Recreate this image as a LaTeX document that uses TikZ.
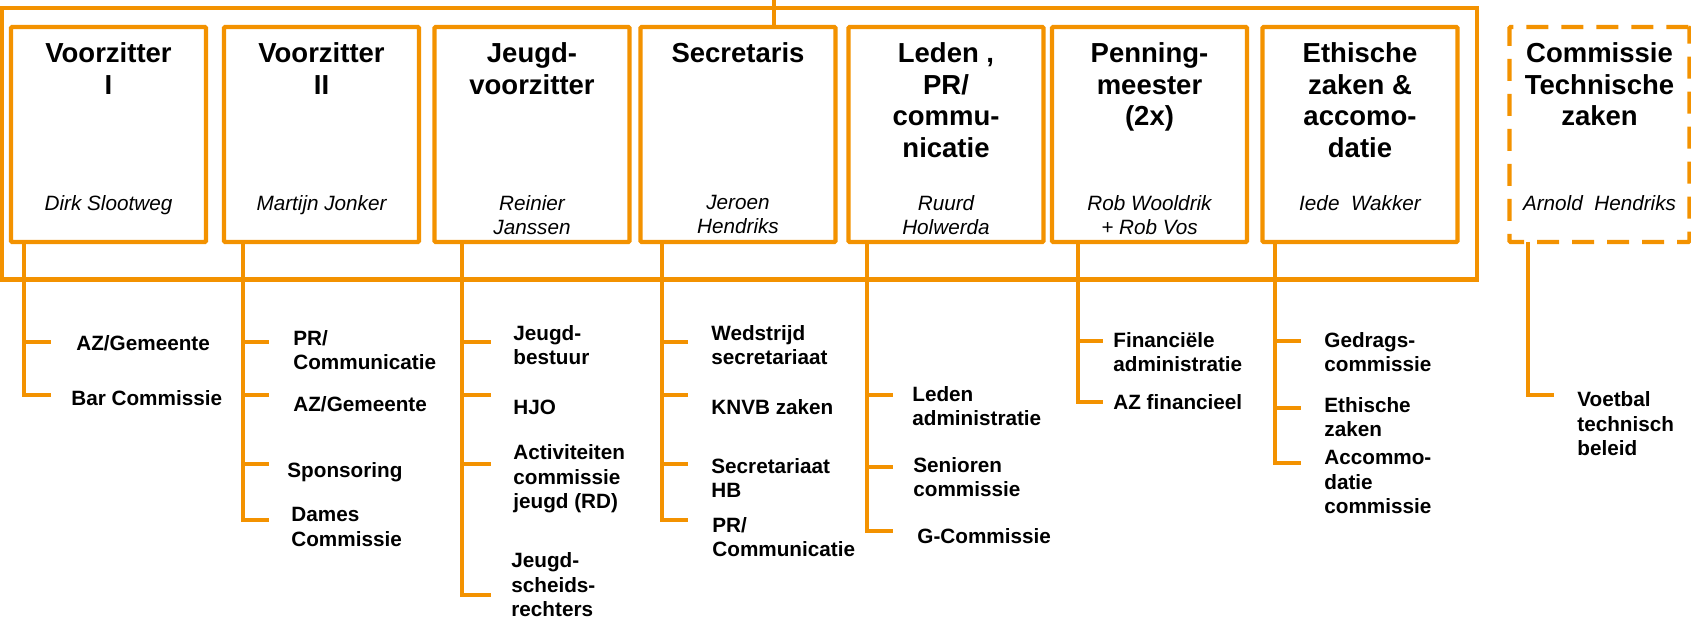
\documentclass[tikz,border=0pt]{standalone}
\usepackage{fontspec}
\setmainfont{Liberation Sans}
\definecolor{clubOrange}{RGB}{243,146,0}

\begin{document}
\begin{tikzpicture}[x=0.5pt,y=-0.5pt]

          \tikzstyle{frameNode} = [draw=clubOrange, line width=2pt, minimum width=737.5pt, minimum height=135.75pt, inner sep=0pt];
          \tikzstyle{functieNode} = [draw=clubOrange, line width=2.2pt, rounded corners=0.6pt, minimum width=97.5pt, minimum height=107.5pt, inner sep=0pt];
          \tikzstyle{commissieNode} = [functieNode, dash pattern=on 11pt off 6.5pt, minimum width=90pt];
          \tikzstyle{titleNode} = [anchor=north, align=center, inner sep=0pt, font=\fontsize{13.75}{15.85}\selectfont\bfseries];
          \tikzstyle{nameNode} = [anchor=north, align=center, inner sep=0pt, font=\fontsize{10.35}{12}\selectfont\itshape];
          \tikzstyle{taskNode} = [anchor=west, align=left, inner sep=0pt, font=\fontsize{10.35}{12.25}\selectfont\bfseries];
          \tikzstyle{orangeEdge} = [draw=clubOrange, line width=2.2pt];

          \useasboundingbox (0,0) rectangle (1691,620);

          % bestuur
          \node[frameNode] (bestuur) at (739.5,143.75) {};
          \node[functieNode] (vz1) at (108.5,134.5) {};
          \node[functieNode] (vz2) at (321.5,134.5) {};
          \node[functieNode] (jvz) at (532,134.5) {};
          \node[functieNode] (sec) at (738,134.5) {};
          \node[functieNode] (led) at (946,134.5) {};
          \node[functieNode] (pen) at (1149.5,134.5) {};
          \node[functieNode] (eth) at (1360,134.5) {};
          \node[commissieNode] (ctz) at (1599.5,134.5) {};

          \node[titleNode] (vz1t) at (108.5,42) {Voorzitter\\I};
          \node[titleNode] (vz2t) at (321.5,42) {Voorzitter\\II};
          \node[titleNode] (jvzt) at (532,42) {Jeugd-\\voorzitter};
          \node[titleNode] (sect) at (738,42) {Secretaris};
          \node[titleNode] (ledt) at (946,42) {Leden ,\\PR/\\commu-\\nicatie};
          \node[titleNode] (pent) at (1149.5,42) {Penning-\\meester\\(2x)};
          \node[titleNode] (etht) at (1360,42) {Ethische\\zaken \&\\accomo-\\datie};
          \node[titleNode] (ctzt) at (1599.5,42) {Commissie\\Technische\\zaken};

          \node[nameNode] (vz1n) at (108.5,195) {Dirk Slootweg};
          \node[nameNode] (vz2n) at (321.5,195) {Martijn Jonker};
          \node[nameNode] (jvzn) at (532,195) {Reinier\\Janssen};
          \node[nameNode] (secn) at (738,195) {Jeroen\\Hendriks};
          \node[nameNode] (ledn) at (946,195) {Ruurd\\Holwerda};
          \node[nameNode] (penn) at (1149.5,195) {Rob Wooldrik\\+ Rob Vos};
          \node[nameNode] (ethn) at (1360,195) {Iede\ \ Wakker};
          \node[nameNode] (ctzn) at (1599.5,195) {Arnold\ \ Hendriks};

          \coordinate (top) at (774,0);
          \draw[orangeEdge] (top) -- (sec.north -| top);

          % taken
          \node[taskNode] (az1) at (76,343) {AZ/Gemeente};
          \node[taskNode] (bar1) at (71,398) {Bar Commissie};

          \node[taskNode] (pr2) at (293,350) {PR/\\Communicatie};
          \node[taskNode] (az2) at (293,404) {AZ/Gemeente};
          \node[taskNode] (spo2) at (287,472) {Sponsoring};
          \node[taskNode] (dam2) at (291,527) {Dames\\Commissie};

          \node[taskNode] (jbe3) at (513,345) {Jeugd-\\bestuur};
          \node[taskNode] (hjo3) at (513,407) {HJO};
          \node[taskNode] (act3) at (513,479) {Activiteiten\\commissie\\jeugd (RD)};
          \node[taskNode] (jsr3) at (511,585) {Jeugd-\\scheids-\\rechters};

          \node[taskNode] (wed4) at (711,345) {Wedstrijd\\secretariaat};
          \node[taskNode] (knvb4) at (711,407) {KNVB zaken};
          \node[taskNode] (shb4) at (711,478) {Secretariaat\\HB};
          \node[taskNode] (pr4) at (712,537) {PR/\\Communicatie};

          \node[taskNode] (lad5) at (912,406) {Leden\\administratie};
          \node[taskNode] (sen5) at (913,477) {Senioren\\commissie};
          \node[taskNode] (gco5) at (917,536) {G-Commissie};

          \node[taskNode] (fin6) at (1113,352) {Financiële\\administratie};
          \node[taskNode] (azf6) at (1113,402) {AZ financieel};

          \node[taskNode] (ged7) at (1324,352) {Gedrags-\\commissie};
          \node[taskNode] (etz7) at (1324,417) {Ethische\\zaken};
          \node[taskNode] (acc7) at (1324,482) {Accommo-\\datie\\commissie};

          \node[taskNode] (vtb8) at (1577,424) {Voetbal\\technisch\\beleid};

          \coordinate (s1) at (24,242);
          \coordinate (s2) at (243,242);
          \coordinate (s3) at (462,242);
          \coordinate (s4) at (662,242);
          \coordinate (s5) at (867,242);
          \coordinate (s6) at (1078,242);
          \coordinate (s7) at (1275,242);
          \coordinate (s8) at (1528,242);

          \coordinate (b1a) at (51,342);
          \coordinate (b1b) at (51,395);
          \coordinate (b2a) at (269,342);
          \coordinate (b2b) at (269,395);
          \coordinate (b2c) at (269,464);
          \coordinate (b2d) at (269,520);
          \coordinate (b3a) at (491,342);
          \coordinate (b3b) at (491,395);
          \coordinate (b3c) at (491,464);
          \coordinate (b3d) at (491,595);
          \coordinate (b4a) at (688,342);
          \coordinate (b4b) at (688,395);
          \coordinate (b4c) at (688,464);
          \coordinate (b4d) at (688,520);
          \coordinate (b5a) at (893,395);
          \coordinate (b5b) at (893,467);
          \coordinate (b5c) at (893,531);
          \coordinate (b6a) at (1103,341);
          \coordinate (b6b) at (1103,402);
          \coordinate (b7a) at (1301,341);
          \coordinate (b7b) at (1301,408);
          \coordinate (b7c) at (1301,463);
          \coordinate (b8a) at (1554,395);

          \draw[orangeEdge] (s1) |- (b1a);
          \draw[orangeEdge] (s1) |- (b1b);
          \draw[orangeEdge] (s2) |- (b2a);
          \draw[orangeEdge] (s2) |- (b2b);
          \draw[orangeEdge] (s2) |- (b2c);
          \draw[orangeEdge] (s2) |- (b2d);
          \draw[orangeEdge] (s3) |- (b3a);
          \draw[orangeEdge] (s3) |- (b3b);
          \draw[orangeEdge] (s3) |- (b3c);
          \draw[orangeEdge] (s3) |- (b3d);
          \draw[orangeEdge] (s4) |- (b4a);
          \draw[orangeEdge] (s4) |- (b4b);
          \draw[orangeEdge] (s4) |- (b4c);
          \draw[orangeEdge] (s4) |- (b4d);
          \draw[orangeEdge] (s5) |- (b5a);
          \draw[orangeEdge] (s5) |- (b5b);
          \draw[orangeEdge] (s5) |- (b5c);
          \draw[orangeEdge] (s6) |- (b6a);
          \draw[orangeEdge] (s6) |- (b6b);
          \draw[orangeEdge] (s7) |- (b7a);
          \draw[orangeEdge] (s7) |- (b7b);
          \draw[orangeEdge] (s7) |- (b7c);
          \draw[orangeEdge] (s8) |- (b8a);
        \end{tikzpicture}
\end{document}
